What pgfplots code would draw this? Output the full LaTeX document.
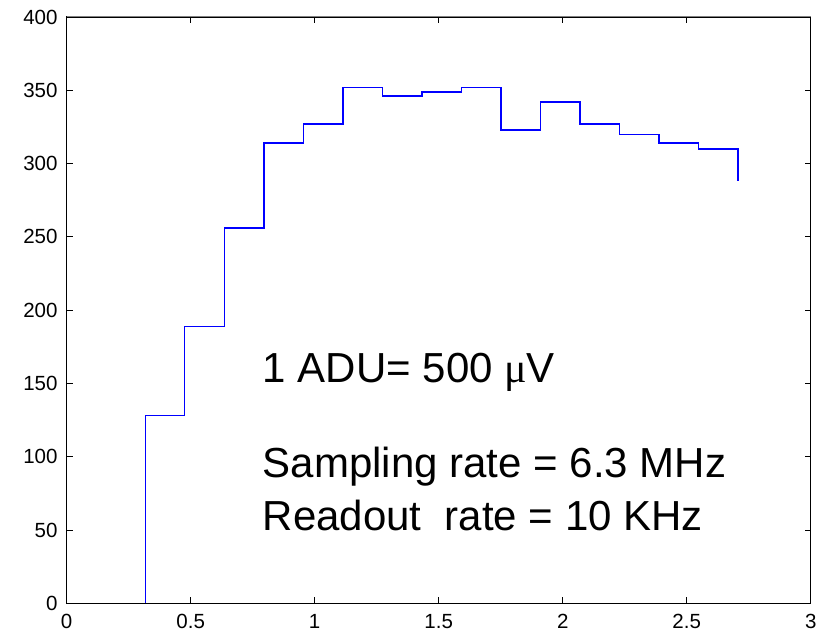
\documentclass[border=0pt]{standalone}
\usepackage{fontspec}
\setmainfont{Liberation Sans}
\newfontfamily\symfont{Liberation Serif}
\usepackage{pgfplots}
\pgfplotsset{compat=1.18}

\begin{document}
\begin{tikzpicture}
  % frame the page like the 823x633 reference (1pt = 1px)
  \path (-66.7pt,-29.7pt) rectangle (756.3pt,603.3pt);
  \begin{axis}[
      at={(0,0)}, anchor=south west,
      scale only axis,
      width=744pt, height=586.3pt,
      xmin=0, xmax=3, ymin=0, ymax=400,
      xtick={0,0.5,...,3},
      ytick={0,50,...,400},
      tick align=inside,
      major tick length=6pt,
      tick style={black, line width=1pt},
      axis line style={black, line width=1.2pt},
      /pgf/number format/assume math mode=true,
      tick label style={font=\fontsize{20.5}{22}\selectfont, inner sep=0pt},
      xticklabel style={anchor=north, yshift=-11pt},
      yticklabel style={anchor=east, xshift=-9pt},
      clip=false,
    ]
    \addplot[const plot, color=blue, line width=1.5pt] coordinates {
      (0.317,0) (0.317,128) (0.476,189) (0.636,256) (0.795,314)
      (0.954,327) (1.114,352) (1.273,346) (1.432,349) (1.592,352)
      (1.751,323) (1.910,342) (2.070,327) (2.229,320) (2.388,314)
      (2.547,310) (2.707,288)};
    \draw[gray, line width=1pt] (rel axis cs:0,1) -- (rel axis cs:1,1);
    \node[anchor=base west, inner sep=0pt, font=\fontsize{42}{52}\selectfont]
      at (axis cs:0.79,150.5) {1 ADU= 500 {\symfont μ}V};
    \node[anchor=base west, inner sep=0pt, font=\fontsize{42}{52}\selectfont]
      at (axis cs:0.79,85.5) {Sampling rate = 6.3 MHz};
    \node[anchor=base west, inner sep=0pt, font=\fontsize{42}{52}\selectfont]
      at (axis cs:0.79,50) {Readout\ \ rate = 10 KHz};
  \end{axis}
\end{tikzpicture}
\end{document}
